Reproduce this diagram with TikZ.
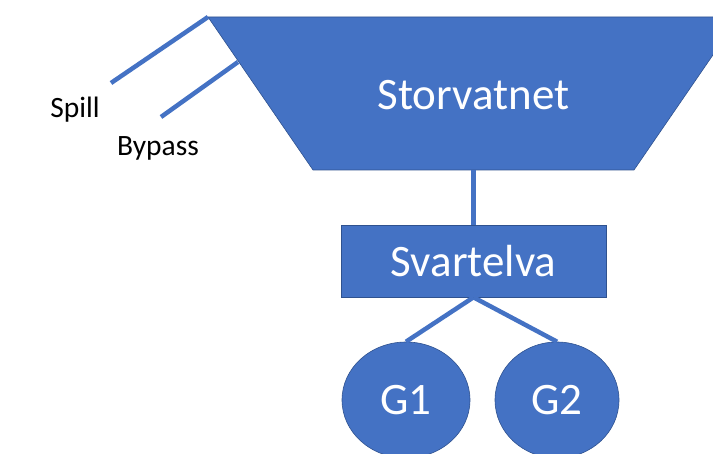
\documentclass[tikz,border=0pt]{standalone}
\usepackage{fontspec}
\setmainfont{Carlito}
\usetikzlibrary{shapes.geometric}
\definecolor{officeblue}{HTML}{4472C4}
\definecolor{officeedge}{HTML}{2F528F}
\tikzset{
  blueshape/.style={fill=officeblue, draw=officeedge, line width=0.6pt},
  bigtext/.style={text=white, font=\fontsize{45}{52}\selectfont},
  conn/.style={draw=officeblue, line width=4.5pt},
  sidelabel/.style={text=black, font=\fontsize{29.5}{34}\selectfont},
}
\begin{document}
\begin{tikzpicture}[x=1pt,y=-1pt]
  \useasboundingbox (0,0) rectangle (713,454);
  \clip (0,0) rectangle (713,454);

  % reservoir outline (trapezoid, right corner runs past the frame)
  \coordinate (resTL) at (208,17);
  \coordinate (resTR) at (739,17);
  \coordinate (resBR) at (634,170);
  \coordinate (resBL) at (313,170);
  \coordinate (resB) at (473.5,170);
  \path[blueshape] (resTL) -- (resTR) -- (resBR) -- (resBL) -- cycle;
  \node[bigtext] (stor) at (473.5,95) {Storvatnet};

  % outlets on the upper left side
  \coordinate (spillEnd) at (111,83);
  \coordinate (bypassStart) at (238,62);
  \coordinate (bypassEnd) at (161,117);
  \draw[conn] (resTL) -- (spillEnd);
  \draw[conn] (bypassStart) -- (bypassEnd);
  \node[sidelabel] (spill) at (75,110) {Spill};
  \node[sidelabel] (bypass) at (158,148) {Bypass};

  % river and generators
  \node[blueshape, bigtext, rectangle, minimum width=265pt, minimum height=72pt, inner sep=0pt] (sv) at (473.5,261) {Svartelva};
  \node[blueshape, bigtext, ellipse, minimum width=128pt, minimum height=116pt, inner sep=0pt] (g1) at (406,400) {G1};
  \node[blueshape, bigtext, ellipse, minimum width=124pt, minimum height=116pt, inner sep=0pt] (g2) at (557,400) {G2};

  \draw[conn] (resB) -- (sv.north);
  \draw[conn] (sv.south) -- (g1.north);
  \draw[conn] (sv.south) -- (g2.north);
\end{tikzpicture}
\end{document}
